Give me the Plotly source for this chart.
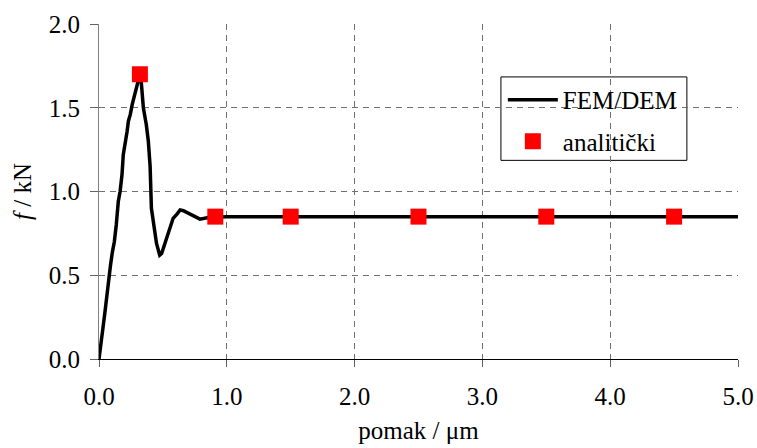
import plotly.graph_objects as go

# FEM/DEM curve
pomak_fem = [0.0, 0.01, 0.03, 0.045, 0.06, 0.073, 0.09, 0.105, 0.12, 0.135, 0.151,
             0.165, 0.18, 0.19, 0.205, 0.22, 0.23, 0.245, 0.26, 0.27, 0.285,
             0.295, 0.31, 0.32, 0.33, 0.347, 0.37, 0.386, 0.40, 0.41, 0.43, 0.45,
             0.475, 0.49, 0.52, 0.556, 0.58, 0.61, 0.635, 0.66, 0.71, 0.76, 0.79,
             0.855, 1.0, 5.0]
sila_fem = [0.0, 0.05, 0.18, 0.27, 0.38, 0.48, 0.56, 0.64, 0.70, 0.80, 0.94,
            1.00, 1.10, 1.22, 1.28, 1.36, 1.42, 1.46, 1.52, 1.55, 1.60,
            1.63, 1.67, 1.68, 1.66, 1.50, 1.40, 1.30, 1.15, 0.90, 0.79, 0.69,
            0.62, 0.63, 0.70, 0.79, 0.84, 0.865, 0.89, 0.885, 0.865, 0.845, 0.835,
            0.845, 0.85, 0.85]

# analytic points
pomak_an = [0.32, 0.91, 1.5, 2.5, 3.5, 4.5]
sila_an = [1.70, 0.85, 0.85, 0.85, 0.85, 0.85]

x_ticks = [0, 1, 2, 3, 4, 5]
y_ticks = [0, 0.5, 1.0, 1.5, 2.0]

SERIF = "Liberation Serif"


def serif(size=25):
    return dict(family=SERIF, size=size, color="black")


fig = go.Figure()
fig.add_trace(go.Scatter(x=pomak_fem, y=sila_fem, mode="lines", name="FEM/DEM",
                         legendgroup="a",
                         line=dict(color="black", width=3.5)))
fig.add_trace(go.Scatter(x=pomak_an, y=sila_an, mode="markers", name="analitički",
                         legendgroup="b",
                         marker=dict(symbol="square", size=16, color="#ff0000",
                                     line=dict(width=0))))

fig.update_xaxes(range=[0, 5], tickvals=x_ticks, tickformat=".1f", automargin=False,
                 showgrid=True, gridcolor="#707070", griddash="6px,5px", gridwidth=1,
                 zeroline=False, showline=True, linecolor="black", linewidth=1,
                 ticks="outside", ticklen=7, tickcolor="#606060",
                 tickfont=serif(), ticklabelstandoff=8,
                 title=dict(text="pomak / μm", font=serif(), standoff=12))
fig.update_yaxes(range=[0, 2], tickvals=y_ticks, tickformat=".1f", automargin=False,
                 showgrid=True, gridcolor="#707070", griddash="6px,5px", gridwidth=1,
                 zeroline=False, showline=True, linecolor="#808080", linewidth=1,
                 ticks="outside", ticklen=8, tickcolor="#606060",
                 tickfont=serif(), ticklabelstandoff=5,
                 title=dict(text="<i>f</i> / kN", font=serif(), standoff=10))

# legend frame drawn as a shape so its size matches the original
fig.add_shape(type="rect", xref="paper", yref="paper", layer="between",
              x0=0.629, x1=0.920, y0=0.593, y1=0.842,
              fillcolor="white", line=dict(color="black", width=1))

fig.update_layout(
    width=757, height=448,
    margin=dict(l=99, r=19, t=24, b=89),
    paper_bgcolor="white", plot_bgcolor="white",
    font=serif(),
    showlegend=True,
    legend=dict(x=0.632, y=0.842, xanchor="left", yanchor="top",
                bgcolor="rgba(0,0,0,0)", borderwidth=0,
                font=serif(), tracegroupgap=6, itemwidth=50),
)

# drop the default body margin so the figure fills the window
fig.write_html("out.html", config={"displayModeBar": False},
               post_script="document.body.style.margin='0';"
                           "document.documentElement.style.overflow='hidden';")
